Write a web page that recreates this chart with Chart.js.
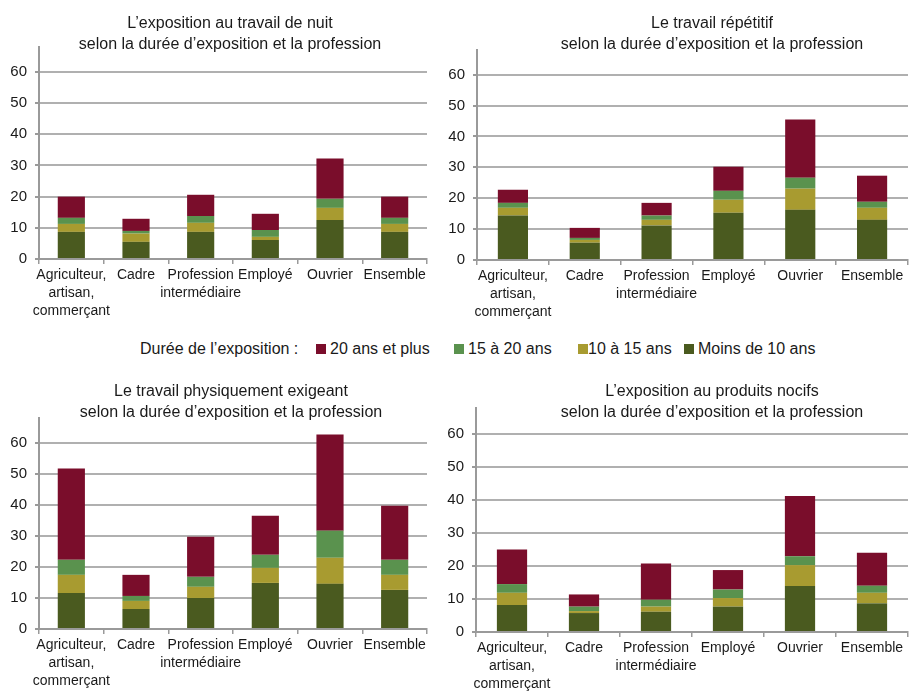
<!DOCTYPE html>
<html><head><meta charset="utf-8">
<script src="https://cdn.jsdelivr.net/npm/chart.js@4.4.1/dist/chart.umd.min.js"></script>
<style>
html,body{margin:0;padding:0;background:#fff;width:909px;height:696px;overflow:hidden;position:relative;font-family:"Liberation Sans Narrow","Liberation Sans",Arial,sans-serif;color:#1a1a1a;}
.t{position:absolute;text-align:center;font-size:16px;line-height:21px;white-space:nowrap;z-index:2;}
.c{position:absolute;}
#legend{position:absolute;top:339px;left:140px;font-size:16px;line-height:20px;white-space:nowrap;}
#legend span.sq{display:inline-block;width:10px;height:10px;margin-right:4px;vertical-align:0px;}
#legend span.it{position:absolute;top:0;}
</style></head>
<body>
<div class="t" style="left:30px;width:400px;top:12px">L’exposition au travail de nuit<br>selon la durée d’exposition et la profession</div>
<div class="t" style="left:512px;width:400px;top:12px">Le travail répétitif<br>selon la durée d’exposition et la profession</div>
<div class="t" style="left:31px;width:400px;top:380px">Le travail physiquement exigeant<br>selon la durée d’exposition et la profession</div>
<div class="t" style="left:512px;width:400px;top:380px">L’exposition au produits nocifs<br>selon la durée d’exposition et la profession</div>
<div id="legend"></div>
<canvas class="c" id="c1" style="left:0;top:40px;width:450px;height:295px" width="450" height="295"></canvas>
<canvas class="c" id="c2" style="left:438px;top:40px;width:471px;height:295px" width="471" height="295"></canvas>
<canvas class="c" id="c3" style="left:0;top:410px;width:450px;height:286px" width="450" height="286"></canvas>
<canvas class="c" id="c4" style="left:438px;top:400px;width:471px;height:296px" width="471" height="296"></canvas>
<script>
// Categories and series
const categories = [["Agriculteur,","artisan,","commerçant"],"Cadre",["Profession","intermédiaire"],"Employé","Ouvrier","Ensemble"];
const seriesNames = ["Moins de 10 ans","10 à 15 ans","15 à 20 ans","20 ans et plus"];
const legendLabel = "Durée de l’exposition :";

// Chart 1: travail de nuit
const nuitMoins10 = [8.7, 5.5, 8.7, 6.1, 12.5, 8.7];
const nuit10a15   = [2.55, 2.65, 2.9, 1.0, 3.9, 2.55];
const nuit15a20   = [1.95, 0.85, 2.2, 2.2, 2.9, 1.95];
const nuit20plus  = [6.8, 3.9, 6.8, 5.2, 12.9, 6.8];

// Chart 2: travail répétitif
const repMoins10 = [14.4, 5.6, 11.2, 15.3, 16.25, 13.0];
const rep10a15   = [2.5, 0.9, 1.8, 4.2, 6.85, 3.9];
const rep15a20   = [1.6, 0.65, 1.4, 2.9, 3.55, 1.95];
const rep20plus  = [4.25, 3.25, 4.1, 7.8, 18.85, 8.45];

// Chart 3: travail physiquement exigeant
const physMoins10 = [11.6, 6.45, 10.0, 14.85, 14.55, 12.6];
const phys10a15   = [5.85, 2.6, 3.6, 4.85, 8.4, 4.85];
const phys15a20   = [4.85, 1.6, 3.2, 4.2, 8.75, 4.85];
const phys20plus  = [29.4, 6.8, 12.9, 12.6, 31.0, 17.45];

// Chart 4: produits nocifs
const nocMoins10 = [8.2, 5.75, 6.15, 7.7, 13.95, 8.7];
const noc10a15   = [3.7, 0.6, 1.55, 2.6, 6.35, 3.2];
const noc15a20   = [2.65, 1.35, 2.1, 2.6, 2.7, 2.15];
const noc20plus  = [10.5, 3.7, 11.0, 5.9, 18.3, 10.0];

const yTicks = [0,10,20,30,40,50,60];

const colors = ["#4a5a1f","#a89b30","#5a924e","#7a0d2b"];
const FONT = "'Liberation Sans Narrow','Liberation Sans',Arial,sans-serif";

function makeChart(id, series, cfg){
  const datasets = series.map((d,i)=>({label:seriesNames[i],data:d,backgroundColor:colors[i],borderWidth:0,barPercentage:0.42,categoryPercentage:1}));
  new Chart(document.getElementById(id),{
    type:'bar',
    data:{labels:categories,datasets},
    options:{
      responsive:false,animation:false,
      layout:{padding:{top:cfg.top,right:cfg.right,left:0,bottom:0}},
      plugins:{legend:{display:false},tooltip:{enabled:false},title:{display:false}},
      scales:{
        x:{stacked:true,offset:true,
          grid:{offset:true,drawOnChartArea:false,drawTicks:true,tickLength:5,color:'#9a9a9a',lineWidth:1.5},
          border:{color:'#9a9a9a',width:2},
          ticks:{color:'#1a1a1a',font:{family:FONT,size:14,lineHeight:1.3},padding:2,maxRotation:0,autoSkip:false},
          afterFit:s=>{s.height=cfg.xh;s.paddingLeft=0;s.paddingRight=0;}
        },
        y:{stacked:true,min:0,max:68,
          afterBuildTicks:s=>{s.ticks=yTicks.map(v=>({value:v}));},
          grid:{color:'#b0b0b0',lineWidth:2,drawTicks:true,tickLength:4,tickColor:'#9a9a9a'},
          border:{color:'#9a9a9a',width:2},
          ticks:{color:'#1a1a1a',font:{family:FONT,size:15},padding:8},
          afterFit:s=>{s.width=cfg.yw;s.paddingTop=0;s.paddingBottom=0;}
        }
      }
    }
  });
}
makeChart('c1',[nuitMoins10,nuit10a15,nuit15a20,nuit20plus],{top:7,right:23,xh:76,yw:39});
makeChart('c2',[repMoins10,rep10a15,rep15a20,rep20plus],{top:10,right:1,xh:75,yw:39});
makeChart('c3',[physMoins10,phys10a15,phys15a20,phys20plus],{top:8,right:23,xh:67,yw:39});
makeChart('c4',[nocMoins10,noc10a15,noc15a20,noc20plus],{top:8,right:1,xh:64,yw:38});

// Legend (HTML text)
const lg = document.getElementById('legend');
const lx = [0,176,314,438,544];
const gaps = [4,4,0,4];
const order = [3,2,1,0];
let html = '<span class="it" style="left:'+lx[0]+'px">'+legendLabel+'</span>';
order.forEach((si,k)=>{
  html += '<span class="it" style="left:'+lx[k+1]+'px"><span class="sq" style="background:'+colors[si]+';margin-right:'+gaps[k]+'px"></span>'+seriesNames[si]+'</span>';
});
lg.innerHTML = html;
</script>
</body></html>
